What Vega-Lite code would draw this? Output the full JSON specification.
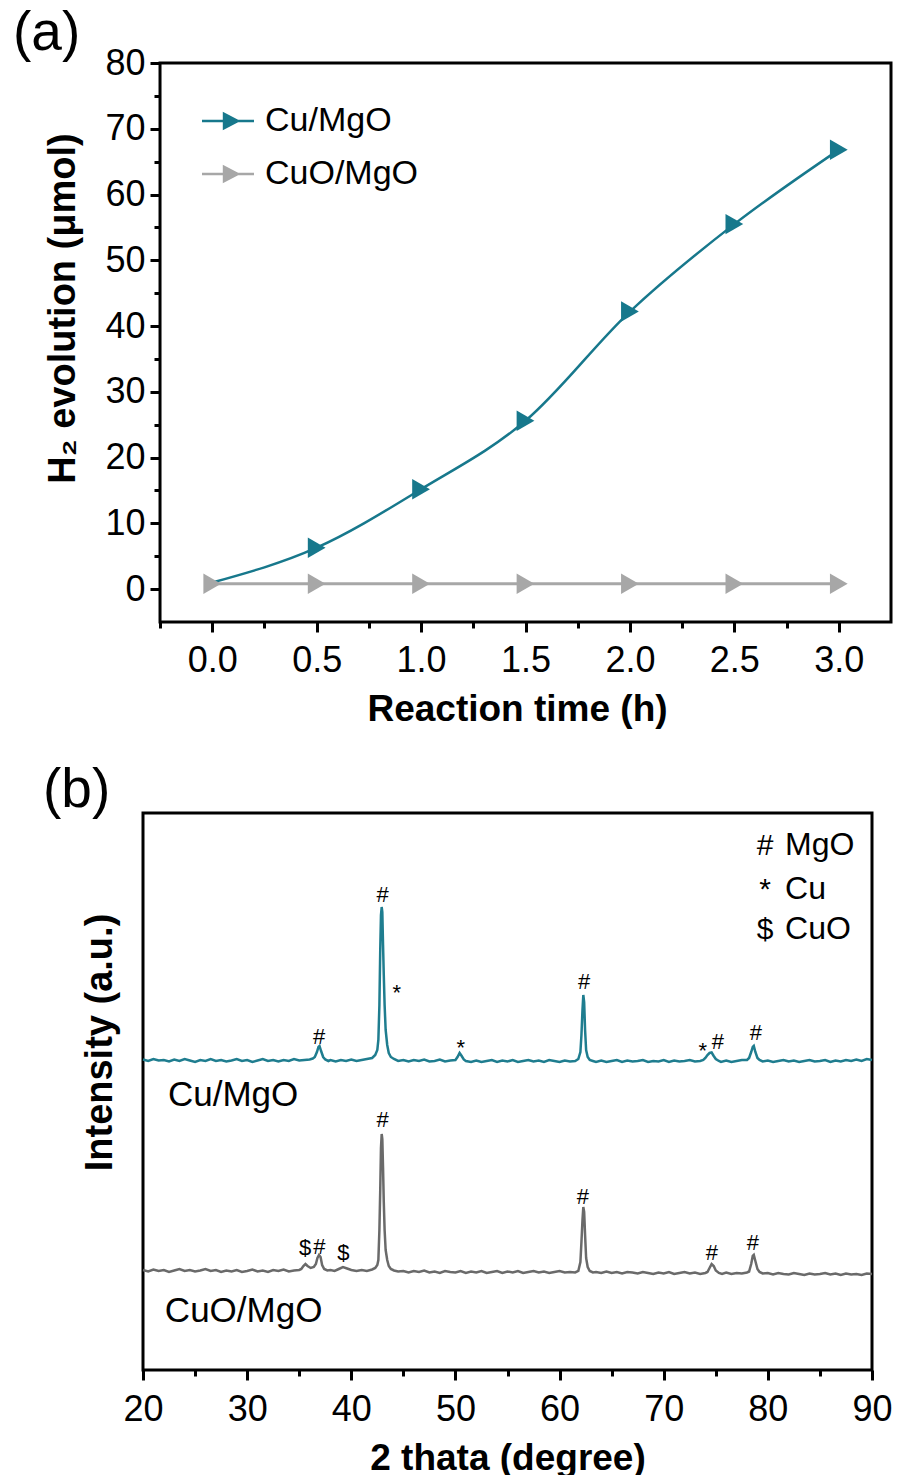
{
  "$schema": "https://vega.github.io/schema/vega-lite/v6.json",
  "background": "white",
  "padding": {"left": 13, "top": 6, "right": 0, "bottom": 0},
  "spacing": 34,
  "config": {
    "font": "Liberation Sans",
    "axis": {
      "labelFont": "Liberation Sans", "labelFontSize": 36, "labelColor": "black",
      "titleFont": "Liberation Sans", "titleFontSize": 37, "titleFontWeight": "bold", "titleColor": "black",
      "tickColor": "black", "tickWidth": 3, "domainColor": "black", "domainWidth": 3,
      "grid": false, "labelFlush": false, "labelOverlap": false
    },
    "title": {"font": "Liberation Sans", "fontSize": 55, "fontWeight": "normal", "color": "black", "anchor": "start", "frame": "group"}
  },
  "datasets": {
    "h2": [
      {"time": 0, "h2": 1.0, "catalyst": "Cu/MgO"},
      {"time": 0.5, "h2": 6.3, "catalyst": "Cu/MgO"},
      {"time": 1.0, "h2": 15.2, "catalyst": "Cu/MgO"},
      {"time": 1.5, "h2": 25.6, "catalyst": "Cu/MgO"},
      {"time": 2.0, "h2": 42.2, "catalyst": "Cu/MgO"},
      {"time": 2.5, "h2": 55.5, "catalyst": "Cu/MgO"},
      {"time": 3.0, "h2": 66.8, "catalyst": "Cu/MgO"},
      {"time": 0, "h2": 0.8, "catalyst": "CuO/MgO"},
      {"time": 0.5, "h2": 0.8, "catalyst": "CuO/MgO"},
      {"time": 1.0, "h2": 0.8, "catalyst": "CuO/MgO"},
      {"time": 1.5, "h2": 0.8, "catalyst": "CuO/MgO"},
      {"time": 2.0, "h2": 0.8, "catalyst": "CuO/MgO"},
      {"time": 2.5, "h2": 0.8, "catalyst": "CuO/MgO"},
      {"time": 3.0, "h2": 0.8, "catalyst": "CuO/MgO"}
    ],
    "xrdCu": [
      {"angle":20,"intensity":310.5},{"angle":20.5,"intensity":309},{"angle":21,"intensity":311},{"angle":21.5,"intensity":309.5},
      {"angle":22,"intensity":310},{"angle":22.5,"intensity":308.5},{"angle":23,"intensity":310.5},{"angle":23.5,"intensity":309},
      {"angle":24,"intensity":311},{"angle":24.5,"intensity":309.5},{"angle":25,"intensity":308},{"angle":25.5,"intensity":310},
      {"angle":26,"intensity":309},{"angle":26.5,"intensity":311},{"angle":27,"intensity":309},{"angle":27.5,"intensity":310},
      {"angle":28,"intensity":308.5},{"angle":28.5,"intensity":309.5},{"angle":29,"intensity":311},{"angle":29.5,"intensity":309},
      {"angle":30,"intensity":310},{"angle":30.5,"intensity":308},{"angle":31,"intensity":309.5},{"angle":31.5,"intensity":311},
      {"angle":32,"intensity":309},{"angle":32.5,"intensity":310},{"angle":33,"intensity":308.5},{"angle":33.5,"intensity":310},
      {"angle":34,"intensity":309},{"angle":34.5,"intensity":311},{"angle":35,"intensity":309.5},{"angle":35.5,"intensity":310},
      {"angle":36,"intensity":310.5},{"angle":36.3,"intensity":311.5},{"angle":36.5,"intensity":313},{"angle":36.7,"intensity":318},
      {"angle":36.85,"intensity":323},{"angle":36.95,"intensity":324},{"angle":37.1,"intensity":319},{"angle":37.3,"intensity":313},
      {"angle":37.5,"intensity":310.5},{"angle":37.8,"intensity":309},{"angle":38,"intensity":310},{"angle":38.5,"intensity":308.5},
      {"angle":39,"intensity":310},{"angle":39.5,"intensity":309},{"angle":40,"intensity":310.5},{"angle":40.5,"intensity":309},
      {"angle":41,"intensity":310},{"angle":41.5,"intensity":311},{"angle":42,"intensity":312},{"angle":42.3,"intensity":315},
      {"angle":42.5,"intensity":320},{"angle":42.6,"intensity":330},{"angle":42.7,"intensity":365},{"angle":42.78,"intensity":420},
      {"angle":42.85,"intensity":455},{"angle":42.92,"intensity":463},{"angle":42.98,"intensity":458},{"angle":43.05,"intensity":425},
      {"angle":43.12,"intensity":395},{"angle":43.2,"intensity":365},{"angle":43.3,"intensity":340},{"angle":43.45,"intensity":325},
      {"angle":43.6,"intensity":317},{"angle":43.8,"intensity":313},{"angle":44.1,"intensity":311},{"angle":44.5,"intensity":309},
      {"angle":45,"intensity":310},{"angle":45.5,"intensity":308.5},{"angle":46,"intensity":310},{"angle":46.5,"intensity":309},
      {"angle":47,"intensity":310.5},{"angle":47.5,"intensity":308.5},{"angle":48,"intensity":309},{"angle":48.5,"intensity":310.5},
      {"angle":49,"intensity":308.5},{"angle":49.5,"intensity":309.5},{"angle":50,"intensity":310},{"angle":50.2,"intensity":313},
      {"angle":50.4,"intensity":317},{"angle":50.6,"intensity":314},{"angle":50.8,"intensity":310.5},{"angle":51,"intensity":309},
      {"angle":51.5,"intensity":308},{"angle":52,"intensity":309.5},{"angle":52.5,"intensity":308},{"angle":53,"intensity":309},
      {"angle":53.5,"intensity":310},{"angle":54,"intensity":308},{"angle":54.5,"intensity":309.5},{"angle":55,"intensity":308.5},
      {"angle":55.5,"intensity":310},{"angle":56,"intensity":308},{"angle":56.5,"intensity":309},{"angle":57,"intensity":310},
      {"angle":57.5,"intensity":308.5},{"angle":58,"intensity":309.5},{"angle":58.5,"intensity":308},{"angle":59,"intensity":310},
      {"angle":59.5,"intensity":309},{"angle":60,"intensity":308},{"angle":60.5,"intensity":309.5},{"angle":61,"intensity":308.5},
      {"angle":61.5,"intensity":309},{"angle":61.8,"intensity":311},{"angle":62,"intensity":318},{"angle":62.1,"intensity":335},
      {"angle":62.2,"intensity":360},{"angle":62.28,"intensity":375},{"angle":62.36,"intensity":368},{"angle":62.45,"intensity":340},
      {"angle":62.55,"intensity":320},{"angle":62.7,"intensity":313},{"angle":62.9,"intensity":310},{"angle":63.2,"intensity":309},
      {"angle":63.5,"intensity":308},{"angle":64,"intensity":309.5},{"angle":64.5,"intensity":308},{"angle":65,"intensity":309},
      {"angle":65.5,"intensity":310},{"angle":66,"intensity":308},{"angle":66.5,"intensity":309.5},{"angle":67,"intensity":308.5},
      {"angle":67.5,"intensity":309},{"angle":68,"intensity":310},{"angle":68.5,"intensity":308},{"angle":69,"intensity":309},
      {"angle":69.5,"intensity":308.5},{"angle":70,"intensity":310},{"angle":70.5,"intensity":308},{"angle":71,"intensity":309.5},
      {"angle":71.5,"intensity":308.5},{"angle":72,"intensity":309},{"angle":72.5,"intensity":310},{"angle":73,"intensity":308.5},
      {"angle":73.5,"intensity":309},{"angle":73.8,"intensity":310},{"angle":74,"intensity":312},{"angle":74.2,"intensity":315},
      {"angle":74.4,"intensity":317},{"angle":74.6,"intensity":317.5},{"angle":74.8,"intensity":314},{"angle":75,"intensity":311},
      {"angle":75.3,"intensity":309},{"angle":75.5,"intensity":308},{"angle":76,"intensity":309.5},{"angle":76.5,"intensity":308},
      {"angle":77,"intensity":309},{"angle":77.5,"intensity":310},{"angle":78,"intensity":310},{"angle":78.2,"intensity":312},
      {"angle":78.4,"intensity":318},{"angle":78.55,"intensity":323},{"angle":78.65,"intensity":324},{"angle":78.8,"intensity":318},
      {"angle":79,"intensity":312},{"angle":79.2,"intensity":310},{"angle":79.5,"intensity":308.5},{"angle":80,"intensity":309.5},
      {"angle":80.5,"intensity":308},{"angle":81,"intensity":309},{"angle":81.5,"intensity":310},{"angle":82,"intensity":308.5},
      {"angle":82.5,"intensity":309.5},{"angle":83,"intensity":308},{"angle":83.5,"intensity":309},{"angle":84,"intensity":310},
      {"angle":84.5,"intensity":308.5},{"angle":85,"intensity":309},{"angle":85.5,"intensity":310},{"angle":86,"intensity":308},
      {"angle":86.5,"intensity":309.5},{"angle":87,"intensity":308.5},{"angle":87.5,"intensity":310},{"angle":88,"intensity":309},
      {"angle":88.5,"intensity":310.5},{"angle":89,"intensity":309},{"angle":89.5,"intensity":311},{"angle":90,"intensity":310}
    ],
    "xrdCuO": [
      {"angle":20,"intensity":100},{"angle":20.5,"intensity":98.5},{"angle":21,"intensity":100.5},{"angle":21.5,"intensity":99},
      {"angle":22,"intensity":100},{"angle":22.5,"intensity":98},{"angle":23,"intensity":99.5},{"angle":23.5,"intensity":101},
      {"angle":24,"intensity":99},{"angle":24.5,"intensity":100},{"angle":25,"intensity":98.5},{"angle":25.5,"intensity":99.5},
      {"angle":26,"intensity":101},{"angle":26.5,"intensity":99},{"angle":27,"intensity":100},{"angle":27.5,"intensity":98},
      {"angle":28,"intensity":99.5},{"angle":28.5,"intensity":98.5},{"angle":29,"intensity":100},{"angle":29.5,"intensity":98},
      {"angle":30,"intensity":99},{"angle":30.5,"intensity":100.5},{"angle":31,"intensity":98.5},{"angle":31.5,"intensity":99.5},
      {"angle":32,"intensity":98},{"angle":32.5,"intensity":100},{"angle":33,"intensity":99},{"angle":33.5,"intensity":100.5},
      {"angle":34,"intensity":98.5},{"angle":34.5,"intensity":99.5},{"angle":35,"intensity":100},{"angle":35.2,"intensity":101},
      {"angle":35.4,"intensity":104},{"angle":35.6,"intensity":106},{"angle":35.8,"intensity":104},{"angle":36.1,"intensity":102},
      {"angle":36.4,"intensity":103},{"angle":36.6,"intensity":106},{"angle":36.75,"intensity":112},{"angle":36.9,"intensity":115},
      {"angle":37.05,"intensity":113},{"angle":37.2,"intensity":105},{"angle":37.4,"intensity":101},{"angle":37.7,"intensity":99.5},
      {"angle":38,"intensity":100},{"angle":38.4,"intensity":99},{"angle":38.8,"intensity":101},{"angle":39.2,"intensity":103},
      {"angle":39.6,"intensity":101.5},{"angle":40,"intensity":100},{"angle":40.5,"intensity":99},{"angle":41,"intensity":100},
      {"angle":41.5,"intensity":99},{"angle":42,"intensity":100.5},{"angle":42.3,"intensity":102},{"angle":42.5,"intensity":105},
      {"angle":42.6,"intensity":110},{"angle":42.7,"intensity":140},{"angle":42.78,"intensity":180},{"angle":42.85,"intensity":222},
      {"angle":42.92,"intensity":236},{"angle":42.98,"intensity":231},{"angle":43.05,"intensity":202},{"angle":43.12,"intensity":168},
      {"angle":43.2,"intensity":140},{"angle":43.3,"intensity":120},{"angle":43.45,"intensity":110},{"angle":43.6,"intensity":104},
      {"angle":43.8,"intensity":101},{"angle":44.1,"intensity":99.5},{"angle":44.5,"intensity":98.5},{"angle":45,"intensity":99},
      {"angle":45.5,"intensity":97.5},{"angle":46,"intensity":99},{"angle":46.5,"intensity":98},{"angle":47,"intensity":99.5},
      {"angle":47.5,"intensity":97.5},{"angle":48,"intensity":98.5},{"angle":48.5,"intensity":97},{"angle":49,"intensity":99},
      {"angle":49.5,"intensity":98},{"angle":50,"intensity":97.5},{"angle":50.5,"intensity":99},{"angle":51,"intensity":97},
      {"angle":51.5,"intensity":98.5},{"angle":52,"intensity":97.5},{"angle":52.5,"intensity":99},{"angle":53,"intensity":97},
      {"angle":53.5,"intensity":98},{"angle":54,"intensity":99},{"angle":54.5,"intensity":97},{"angle":55,"intensity":98.5},
      {"angle":55.5,"intensity":97.5},{"angle":56,"intensity":99},{"angle":56.5,"intensity":97},{"angle":57,"intensity":98},
      {"angle":57.5,"intensity":99},{"angle":58,"intensity":97.5},{"angle":58.5,"intensity":98.5},{"angle":59,"intensity":97},
      {"angle":59.5,"intensity":98},{"angle":60,"intensity":99},{"angle":60.5,"intensity":97.5},{"angle":61,"intensity":98},
      {"angle":61.5,"intensity":97.5},{"angle":61.8,"intensity":99},{"angle":62,"intensity":108},{"angle":62.1,"intensity":128},
      {"angle":62.2,"intensity":150},{"angle":62.28,"intensity":163},{"angle":62.36,"intensity":158},{"angle":62.45,"intensity":135},
      {"angle":62.55,"intensity":112},{"angle":62.7,"intensity":103},{"angle":62.9,"intensity":99},{"angle":63.2,"intensity":97.5},
      {"angle":63.5,"intensity":98},{"angle":64,"intensity":97},{"angle":64.5,"intensity":98.5},{"angle":65,"intensity":97},
      {"angle":65.5,"intensity":98},{"angle":66,"intensity":96.5},{"angle":66.5,"intensity":98},{"angle":67,"intensity":97.5},
      {"angle":67.5,"intensity":96.5},{"angle":68,"intensity":98},{"angle":68.5,"intensity":97},{"angle":69,"intensity":96},
      {"angle":69.5,"intensity":97.5},{"angle":70,"intensity":96.5},{"angle":70.5,"intensity":98},{"angle":71,"intensity":96},
      {"angle":71.5,"intensity":97},{"angle":72,"intensity":98},{"angle":72.5,"intensity":96.5},{"angle":73,"intensity":97.5},
      {"angle":73.5,"intensity":96},{"angle":74,"intensity":97},{"angle":74.2,"intensity":98},{"angle":74.4,"intensity":102},
      {"angle":74.6,"intensity":106},{"angle":74.8,"intensity":104},{"angle":75,"intensity":99.5},{"angle":75.3,"intensity":97},
      {"angle":75.6,"intensity":96},{"angle":76,"intensity":97.5},{"angle":76.5,"intensity":96},{"angle":77,"intensity":97},
      {"angle":77.5,"intensity":96.5},{"angle":78,"intensity":97.5},{"angle":78.2,"intensity":98.5},{"angle":78.4,"intensity":106},
      {"angle":78.55,"intensity":114},{"angle":78.65,"intensity":115},{"angle":78.8,"intensity":109},{"angle":79,"intensity":101},
      {"angle":79.2,"intensity":98},{"angle":79.5,"intensity":96.5},{"angle":80,"intensity":97},{"angle":80.5,"intensity":95.5},
      {"angle":81,"intensity":97},{"angle":81.5,"intensity":96},{"angle":82,"intensity":95.5},{"angle":82.5,"intensity":97},
      {"angle":83,"intensity":96},{"angle":83.5,"intensity":95},{"angle":84,"intensity":96.5},{"angle":84.5,"intensity":95.5},
      {"angle":85,"intensity":96},{"angle":85.5,"intensity":97},{"angle":86,"intensity":95.5},{"angle":86.5,"intensity":96.5},
      {"angle":87,"intensity":95},{"angle":87.5,"intensity":96.5},{"angle":88,"intensity":95.5},{"angle":88.5,"intensity":96},
      {"angle":89,"intensity":95},{"angle":89.5,"intensity":96.5},{"angle":90,"intensity":96}
    ],
    "notes": [
      {"kind": "peak", "angle": 36.9, "intensity": 326, "label": "#"},
      {"kind": "peak", "angle": 43.0, "intensity": 468, "label": "#"},
      {"kind": "peak", "angle": 44.36, "intensity": 370, "label": "*"},
      {"kind": "peak", "angle": 50.52, "intensity": 315, "label": "*"},
      {"kind": "peak", "angle": 62.36, "intensity": 381, "label": "#"},
      {"kind": "peak", "angle": 73.76, "intensity": 312, "label": "*"},
      {"kind": "peak", "angle": 75.2, "intensity": 321, "label": "#"},
      {"kind": "peak", "angle": 78.85, "intensity": 330, "label": "#"},
      {"kind": "peak", "angle": 35.56, "intensity": 115, "label": "$"},
      {"kind": "peak", "angle": 36.94, "intensity": 116, "label": "#"},
      {"kind": "peak", "angle": 39.24, "intensity": 110, "label": "$"},
      {"kind": "peak", "angle": 43.0, "intensity": 243, "label": "#"},
      {"kind": "peak", "angle": 62.24, "intensity": 166, "label": "#"},
      {"kind": "peak", "angle": 74.63, "intensity": 110, "label": "#"},
      {"kind": "peak", "angle": 78.57, "intensity": 120, "label": "#"},
      {"kind": "sample", "angle": 22.4, "intensity": 264, "label": "Cu/MgO"},
      {"kind": "sample", "angle": 22.1, "intensity": 48, "label": "CuO/MgO"},
      {"kind": "keysym", "angle": 79.73, "intensity": 515, "label": "#"},
      {"kind": "keysym", "angle": 79.73, "intensity": 471, "label": "*"},
      {"kind": "keysym", "angle": 79.73, "intensity": 431, "label": "$"},
      {"kind": "keyword", "angle": 81.65, "intensity": 515, "label": "MgO"},
      {"kind": "keyword", "angle": 81.65, "intensity": 471, "label": "Cu"},
      {"kind": "keyword", "angle": 81.65, "intensity": 431, "label": "CuO"}
    ]
  },
  "vconcat": [
    {
      "width": 748,
      "height": 559,
      "view": {"stroke": null},
      "title": {"text": "(a)", "dx": -130, "offset": -17},
      "data": {"name": "h2"},
      "layer": [
        {
          "data": {"values": [{}]},
          "mark": {"type": "rect", "fill": "transparent", "stroke": "black", "strokeWidth": 3},
          "encoding": {
            "x": {"datum": -0.25, "type": "quantitative", "scale": {"domain": [-0.3315, 3.25], "nice": false, "zero": false}, "axis": null},
            "x2": {"datum": 3.25},
            "y": {"datum": -5, "type": "quantitative", "scale": {"domain": [-5, 80], "nice": false, "zero": false}, "axis": null},
            "y2": {"datum": 80}
          }
        },
        {
          "transform": [{"filter": "datum.catalyst === 'Cu/MgO'"}],
          "mark": {"type": "line", "interpolate": "monotone", "strokeWidth": 2.5, "color": "#17788c"},
          "encoding": {
            "x": {"field": "time", "type": "quantitative", "scale": {"domain": [-0.3315, 3.25], "nice": false, "zero": false},
                  "axis": {"orient": "bottom", "values": [0, 0.5, 1, 1.5, 2, 2.5, 3], "format": ".1f", "domain": false, "tickSize": 10, "labelPadding": 11, "title": "Reaction time (h)", "titlePadding": 13}},
            "y": {"field": "h2", "type": "quantitative", "scale": {"domain": [-5, 80], "nice": false, "zero": false},
                  "axis": {"orient": "left", "offset": -17, "values": [0, 10, 20, 30, 40, 50, 60, 70, 80], "format": "d", "domain": false, "tickSize": 10, "labelPadding": 5, "title": "H₂ evolution (μmol)", "titleFontSize": 38, "titlePadding": 22, "titleY": 245}}
          }
        },
        {
          "transform": [{"filter": "datum.catalyst === 'CuO/MgO'"}],
          "mark": {"type": "line", "strokeWidth": 3, "color": "#a7a7a7"},
          "encoding": {
            "x": {"field": "time", "type": "quantitative", "scale": {"domain": [-0.3315, 3.25], "nice": false, "zero": false}, "axis": null},
            "y": {"field": "h2", "type": "quantitative", "scale": {"domain": [-5, 80], "nice": false, "zero": false}, "axis": null}
          }
        },
        {
          "transform": [{"filter": "!(datum.catalyst === 'Cu/MgO' && datum.time === 0)"}],
          "mark": {"type": "point", "shape": "triangle-right", "size": 420, "filled": true, "opacity": 1, "strokeWidth": 0},
          "encoding": {
            "x": {"field": "time", "type": "quantitative", "scale": {"domain": [-0.3315, 3.25], "nice": false, "zero": false},
                  "axis": {"orient": "bottom", "values": [-0.25, 0.25, 0.75, 1.25, 1.75, 2.25, 2.75], "labels": false, "domain": false, "tickSize": 6, "title": null}},
            "y": {"field": "h2", "type": "quantitative", "scale": {"domain": [-5, 80], "nice": false, "zero": false},
                  "axis": {"orient": "left", "offset": -17, "values": [5, 15, 25, 35, 45, 55, 65, 75], "labels": false, "domain": false, "tickSize": 6, "title": null}},
            "color": {"field": "catalyst", "type": "nominal", "scale": {"domain": ["Cu/MgO", "CuO/MgO"], "range": ["#17788c", "#a7a7a7"]},
                      "legend": {"orient": "none", "legendX": 59, "legendY": 32, "title": null, "padding": 0, "rowPadding": 10,
                                 "symbolType": "M-1,-0.05L1,-0.05L1,0.05L-1,0.05Z M-0.2,-0.36L0.48,0L-0.2,0.36Z",
                                 "symbolSize": 2704, "symbolStrokeWidth": 0, "symbolOpacity": 1,
                                 "labelFont": "Liberation Sans", "labelFontSize": 34, "labelColor": "black", "labelOffset": 11}}
          }
        }
      ],
      "resolve": {"axis": {"x": "independent", "y": "independent"}}
    },
    {
      "width": 729,
      "height": 557,
      "view": {"stroke": "black", "strokeWidth": 3},
      "title": {"text": "(b)", "dx": -100, "offset": -6},
      "layer": [
        {
          "data": {"name": "xrdCu"},
          "mark": {"type": "line", "color": "#1f7d8f", "strokeWidth": 2.5},
          "encoding": {
            "x": {"field": "angle", "type": "quantitative", "scale": {"domain": [20, 90], "nice": false, "zero": false},
                  "axis": {"orient": "bottom", "values": [20, 30, 40, 50, 60, 70, 80, 90], "format": "d", "domain": false, "tickSize": 10, "labelPadding": 12, "title": "2 thata (degree)", "titlePadding": 13}},
            "y": {"field": "intensity", "type": "quantitative", "scale": {"domain": [0, 557], "nice": false, "zero": false},
                  "axis": {"orient": "left", "title": "Intensity (a.u.)", "titleFontSize": 38, "ticks": false, "labels": false, "domain": false, "titlePadding": 24, "titleY": 229}}
          }
        },
        {
          "data": {"name": "xrdCuO"},
          "mark": {"type": "line", "color": "#6a6a6a", "strokeWidth": 2.5},
          "encoding": {
            "x": {"field": "angle", "type": "quantitative", "scale": {"domain": [20, 90], "nice": false, "zero": false},
                  "axis": {"orient": "bottom", "values": [25, 35, 45, 55, 65, 75, 85], "labels": false, "domain": false, "tickSize": 6, "title": null}},
            "y": {"field": "intensity", "type": "quantitative", "scale": {"domain": [0, 557], "nice": false, "zero": false}, "axis": null}
          }
        },
        {
          "data": {"name": "notes"},
          "transform": [{"filter": "datum.kind === 'peak'"}],
          "mark": {"type": "text", "font": "Liberation Sans", "fontSize": 22, "baseline": "alphabetic", "align": "center", "color": "black"},
          "encoding": {
            "x": {"field": "angle", "type": "quantitative", "scale": {"domain": [20, 90], "nice": false, "zero": false}, "axis": null},
            "y": {"field": "intensity", "type": "quantitative", "scale": {"domain": [0, 557], "nice": false, "zero": false}, "axis": null},
            "text": {"field": "label"}
          }
        },
        {
          "data": {"name": "notes"},
          "transform": [{"filter": "datum.kind === 'sample'"}],
          "mark": {"type": "text", "font": "Liberation Sans", "fontSize": 35, "baseline": "alphabetic", "align": "left", "color": "black"},
          "encoding": {
            "x": {"field": "angle", "type": "quantitative", "scale": {"domain": [20, 90], "nice": false, "zero": false}, "axis": null},
            "y": {"field": "intensity", "type": "quantitative", "scale": {"domain": [0, 557], "nice": false, "zero": false}, "axis": null},
            "text": {"field": "label"}
          }
        },
        {
          "data": {"name": "notes"},
          "transform": [{"filter": "datum.kind === 'keysym'"}],
          "mark": {"type": "text", "font": "Liberation Sans", "fontSize": 30, "baseline": "alphabetic", "align": "center", "color": "black"},
          "encoding": {
            "x": {"field": "angle", "type": "quantitative", "scale": {"domain": [20, 90], "nice": false, "zero": false}, "axis": null},
            "y": {"field": "intensity", "type": "quantitative", "scale": {"domain": [0, 557], "nice": false, "zero": false}, "axis": null},
            "text": {"field": "label"}
          }
        },
        {
          "data": {"name": "notes"},
          "transform": [{"filter": "datum.kind === 'keyword'"}],
          "mark": {"type": "text", "font": "Liberation Sans", "fontSize": 32, "baseline": "alphabetic", "align": "left", "color": "black"},
          "encoding": {
            "x": {"field": "angle", "type": "quantitative", "scale": {"domain": [20, 90], "nice": false, "zero": false}, "axis": null},
            "y": {"field": "intensity", "type": "quantitative", "scale": {"domain": [0, 557], "nice": false, "zero": false}, "axis": null},
            "text": {"field": "label"}
          }
        }
      ],
      "resolve": {"axis": {"x": "independent", "y": "independent"}}
    }
  ]
}
